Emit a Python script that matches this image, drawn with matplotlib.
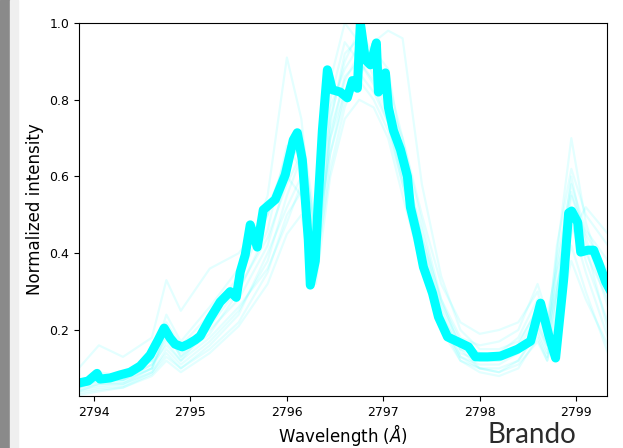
import matplotlib
matplotlib.use('Agg')
import matplotlib.pyplot as plt
from matplotlib.patches import Rectangle

# Thick (mean) Mg II k profile
main_wave = [2793.844, 2793.938, 2794.031, 2794.062, 2794.166, 2794.270, 2794.374,
             2794.478, 2794.582, 2794.665, 2794.727, 2794.789, 2794.841, 2794.914,
             2794.976, 2795.049, 2795.101, 2795.205, 2795.308, 2795.412, 2795.475,
             2795.516, 2795.568, 2795.620, 2795.693, 2795.755, 2795.880, 2795.983,
             2796.066, 2796.108, 2796.160, 2796.191, 2796.222, 2796.243, 2796.295,
             2796.326, 2796.368, 2796.420, 2796.471, 2796.554, 2796.627, 2796.679,
             2796.731, 2796.762, 2796.814, 2796.866, 2796.928, 2796.949, 2797.022,
             2797.053, 2797.105, 2797.178, 2797.250, 2797.281, 2797.354, 2797.416,
             2797.510, 2797.572, 2797.666, 2797.801, 2797.884, 2797.956, 2798.081,
             2798.216, 2798.393, 2798.528, 2798.631, 2798.715, 2798.787, 2798.870,
             2798.922, 2798.953, 2799.016, 2799.047, 2799.120, 2799.182, 2799.234,
             2799.307, 2799.360]
main_int = [0.062, 0.067, 0.087, 0.072, 0.075, 0.083, 0.090,
            0.106, 0.135, 0.174, 0.205, 0.179, 0.163, 0.156,
            0.163, 0.174, 0.184, 0.231, 0.273, 0.300, 0.285,
            0.351, 0.396, 0.474, 0.416, 0.513, 0.540, 0.604,
            0.695, 0.714, 0.643, 0.539, 0.435, 0.317, 0.380,
            0.540, 0.720, 0.878, 0.826, 0.820, 0.805, 0.850,
            0.830, 1.000, 0.904, 0.891, 0.948, 0.820, 0.870,
            0.780, 0.720, 0.670, 0.600, 0.520, 0.443, 0.364,
            0.296, 0.234, 0.182, 0.166, 0.156, 0.130, 0.130,
            0.132, 0.150, 0.171, 0.270, 0.187, 0.127, 0.330,
            0.505, 0.510, 0.480, 0.403, 0.408, 0.408, 0.375,
            0.325, 0.300]

# Individual (faint) profiles on a coarser grid
faint_wave = [2793.84, 2794.05, 2794.30, 2794.60, 2794.75, 2794.90, 2795.20, 2795.50,
              2795.80, 2796.00, 2796.15, 2796.30, 2796.45, 2796.60, 2796.75, 2796.90,
              2797.05, 2797.20, 2797.40, 2797.60, 2797.80, 2798.00, 2798.20, 2798.40,
              2798.60, 2798.70, 2798.80, 2798.95, 2799.10, 2799.33]
faint_a = [0.10, 0.16, 0.13, 0.18, 0.33, 0.25, 0.36, 0.40, 0.50, 0.62, 0.70, 0.45, 0.80, 0.95, 0.90,
           0.85, 0.80, 0.70, 0.50, 0.32, 0.22, 0.19, 0.20, 0.22, 0.30, 0.20, 0.30, 0.55, 0.45, 0.35]
faint_b = [0.05, 0.07, 0.07, 0.11, 0.18, 0.14, 0.20, 0.28, 0.42, 0.60, 0.55, 0.35, 0.72, 0.85, 0.92,
           0.88, 0.78, 0.62, 0.42, 0.26, 0.16, 0.12, 0.12, 0.15, 0.24, 0.16, 0.35, 0.50, 0.40, 0.28]
faint_c = [0.04, 0.06, 0.06, 0.09, 0.15, 0.11, 0.17, 0.25, 0.38, 0.55, 0.65, 0.38, 0.75, 0.90, 0.98,
           0.92, 0.85, 0.70, 0.48, 0.28, 0.15, 0.10, 0.09, 0.12, 0.20, 0.14, 0.30, 0.60, 0.42, 0.20]
faint_d = [0.06, 0.09, 0.08, 0.12, 0.22, 0.16, 0.24, 0.34, 0.55, 0.91, 0.75, 0.40, 0.70, 0.82, 0.85,
           0.80, 0.72, 0.58, 0.40, 0.24, 0.15, 0.13, 0.14, 0.18, 0.28, 0.20, 0.40, 0.70, 0.48, 0.30]
faint_e = [0.05, 0.07, 0.07, 0.10, 0.17, 0.12, 0.18, 0.26, 0.36, 0.48, 0.58, 0.36, 0.62, 0.78, 0.88,
           0.95, 0.98, 0.96, 0.58, 0.34, 0.20, 0.15, 0.15, 0.17, 0.25, 0.22, 0.32, 0.45, 0.52, 0.45]
faint_f = [0.03, 0.04, 0.05, 0.08, 0.12, 0.09, 0.14, 0.21, 0.32, 0.45, 0.50, 0.32, 0.60, 0.75, 0.80,
           0.78, 0.70, 0.55, 0.36, 0.20, 0.12, 0.09, 0.08, 0.10, 0.18, 0.12, 0.25, 0.42, 0.30, 0.14]
faint_g = [0.045, 0.055, 0.06, 0.10, 0.20, 0.13, 0.19, 0.30, 0.46, 0.68, 0.62, 0.42, 0.85, 1.00, 0.95,
           0.86, 0.76, 0.60, 0.40, 0.22, 0.13, 0.11, 0.11, 0.14, 0.22, 0.15, 0.38, 0.58, 0.46, 0.38]
faint_h = [0.055, 0.065, 0.07, 0.11, 0.16, 0.12, 0.21, 0.31, 0.44, 0.58, 0.66, 0.44, 0.66, 0.80, 0.86,
           0.93, 0.88, 0.66, 0.44, 0.25, 0.14, 0.12, 0.12, 0.14, 0.21, 0.16, 0.30, 0.52, 0.38, 0.22]
faint_i = [0.04, 0.05, 0.055, 0.09, 0.14, 0.10, 0.16, 0.24, 0.40, 0.52, 0.60, 0.36, 0.70, 0.86, 0.90,
           0.84, 0.74, 0.58, 0.38, 0.22, 0.12, 0.10, 0.10, 0.12, 0.19, 0.13, 0.28, 0.48, 0.35, 0.18]
faint_j = [0.05, 0.06, 0.065, 0.10, 0.19, 0.13, 0.22, 0.33, 0.50, 0.66, 0.72, 0.48, 0.78, 0.88, 0.94,
           0.90, 0.82, 0.64, 0.46, 0.27, 0.17, 0.14, 0.13, 0.16, 0.26, 0.18, 0.42, 0.62, 0.50, 0.42]
faint_k = [0.035, 0.045, 0.05, 0.085, 0.13, 0.10, 0.15, 0.22, 0.35, 0.50, 0.56, 0.34, 0.66, 0.82, 0.87,
           0.82, 0.74, 0.60, 0.40, 0.23, 0.13, 0.10, 0.09, 0.11, 0.17, 0.12, 0.22, 0.38, 0.28, 0.16]
faint_l = [0.06, 0.08, 0.08, 0.12, 0.24, 0.17, 0.26, 0.36, 0.52, 0.64, 0.68, 0.46, 0.74, 0.92, 0.96,
           0.90, 0.80, 0.62, 0.44, 0.28, 0.18, 0.16, 0.17, 0.20, 0.32, 0.24, 0.36, 0.56, 0.44, 0.26]
faint_profiles = [faint_a, faint_b, faint_c, faint_d, faint_e, faint_f,
                  faint_g, faint_h, faint_i, faint_j, faint_k, faint_l]

xticks = [2794, 2795, 2796, 2797, 2798, 2799]
yticks = [0.2, 0.4, 0.6, 0.8, 1.0]

fig = plt.figure(figsize=(6.23, 4.48), dpi=100)

# bits of the page around the screenshot
fig.patches.append(Rectangle((0, 0), 10 / 623, 1, transform=fig.transFigure,
                             color='#8a8a8a', zorder=-5))
fig.patches.append(Rectangle((10 / 623, 0), 8 / 623, 1, transform=fig.transFigure,
                             color='#efefef', zorder=-5))
fig.text(487 / 623, 0, 'Brando', fontsize=20, family='Lato',
         color='#2b2b2b', ha='left', va='bottom')

ax = fig.add_axes([79 / 623, 52 / 448, 528 / 623, 373 / 448])

for prof in faint_profiles:
    ax.plot(faint_wave, prof, color='cyan', alpha=0.11, lw=1.6)

ax.plot(main_wave, main_int, color='cyan', lw=6.5)

ax.set_xlim(2793.844, 2799.32)
ax.set_ylim(0.028, 1.0)
ax.set_xticks(xticks)
ax.set_yticks(yticks)
ax.set_xticklabels([str(t) for t in xticks])
ax.set_yticklabels(['%.1f' % t for t in yticks])
ax.tick_params(labelsize=9, length=3.5)
ax.set_xlabel(r'Wavelength ($\AA$)', fontsize=12, labelpad=2)
ax.set_ylabel('Normalized intensity', fontsize=12)

fig.savefig('out.png', dpi=100)
